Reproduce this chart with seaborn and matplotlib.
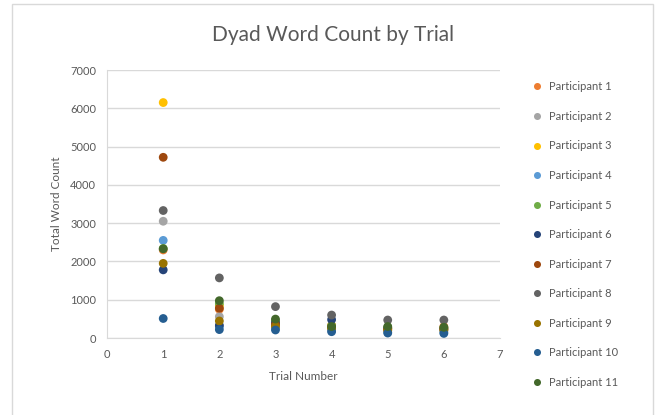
import pandas as pd
import numpy as np
import matplotlib.pyplot as plt
import seaborn as sns
from matplotlib.patches import Rectangle

# Trial numbers and word counts per participant
trials = [1, 2, 3, 4, 5, 6]
participants = ['Participant %d' % i for i in range(1, 12)]
p1 = [2300, 750, 420, 330, 260, 300]
p2 = [3050, 560, 350, 300, 260, 250]
p3 = [6150, 850, 380, 320, 250, 230]
p4 = [2550, 300, 250, 200, 150, 150]
p5 = [2340, 900, 450, 320, 280, 270]
p6 = [1780, 330, 400, 480, 250, 220]
p7 = [4720, 780, 350, 280, 220, 250]
p8 = [3330, 1570, 820, 600, 470, 470]
p9 = [1950, 445, 300, 250, 200, 200]
p10 = [510, 220, 210, 165, 130, 120]
p11 = [2330, 975, 495, 300, 300, 280]
counts = [p1, p2, p3, p4, p5, p6, p7, p8, p9, p10, p11]

# Excel office palette
colors = ['#ED7D31', '#A5A5A5', '#FFC000', '#5B9BD5', '#70AD47', '#264478',
          '#9E480E', '#636363', '#997300', '#255E91', '#43682B']

rows = []
for name, vals in zip(participants, counts):
    for t, v in zip(trials, vals):
        rows.append({'Trial': t, 'Count': v, 'Participant': name})
df = pd.DataFrame(rows)

sns.set_style('white')
plt.rcParams['font.family'] = ['Lato', 'DejaVu Sans']
text_col = '#595959'

fig = plt.figure(figsize=(6.57, 4.15), dpi=100)
ax = fig.add_axes([0.163, 0.1855, 0.598, 0.6458])

sns.scatterplot(data=df, x='Trial', y='Count', hue='Participant', palette=colors,
                hue_order=participants, s=40, linewidth=0, ax=ax, zorder=3)

ax.set_xlim(0, 7)
ax.set_ylim(0, 7000)
ax.set_xticks(range(0, 8))
ax.set_yticks(range(0, 7001, 1000))
ax.yaxis.grid(True, color='#D9D9D9', linewidth=1)
ax.tick_params(axis='both', labelsize=8, colors=text_col, length=0, pad=8)
for side in ['top', 'right']:
    ax.spines[side].set_visible(False)
for side in ['left', 'bottom']:
    ax.spines[side].set_color('#D9D9D9')
ax.set_xlabel('Trial Number', fontsize=8.5, color=text_col, labelpad=8)
ax.set_ylabel('Total Word Count', fontsize=8.5, color=text_col, labelpad=6)

fig.text(0.507, 0.915, 'Dyad Word Count by Trial', ha='center', va='center',
         fontsize=15, color=text_col)

leg = ax.legend(loc='upper left', bbox_to_anchor=(1.04, 0.995), frameon=False,
                fontsize=8, labelspacing=1.67, handletextpad=0.1,
                markerscale=0.8)
for t in leg.get_texts():
    t.set_color(text_col)

fig.patches.append(Rectangle((12 / 657, -0.1), (653 - 12) / 657, 1.1 - 4 / 415,
                             transform=fig.transFigure, fill=False,
                             edgecolor='#D9D9D9', linewidth=1))

plt.savefig('out.png', dpi=100)
